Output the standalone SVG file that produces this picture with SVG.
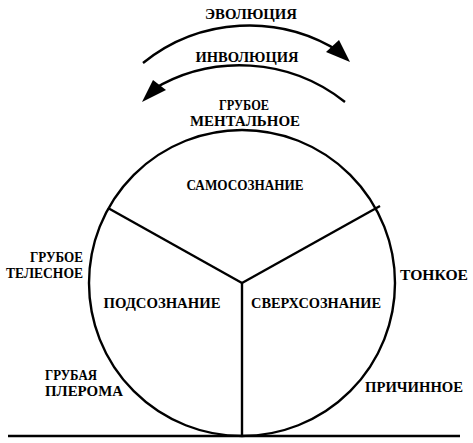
<svg xmlns="http://www.w3.org/2000/svg" width="473" height="443" viewBox="0 0 473 443">
<style>
text{font-family:"Liberation Serif","DejaVu Serif",serif;font-weight:bold;font-size:14.5px;fill:#000}
.c{text-anchor:middle}
.r{text-anchor:end}
.ln{fill:none;stroke:#000;stroke-width:2.4}
</style>
<g id="connectors">
<path id="evolution-arrow" class="ln" d="M143,63 A169,169 0 0 1 340,52"/>
<path d="M350,62 L326,52 L339,40 Z" fill="#000"/>
<path id="involution-arrow" class="ln" d="M345,102 A169,169 0 0 0 152,90"/>
<path d="M142,102 L153,80 L166,90 Z" fill="#000"/>
<line class="ln" x1="8" y1="436" x2="460" y2="436"/>
</g>
<g id="circle">
<circle class="ln" cx="242" cy="283" r="153" stroke-width="2.6"/>
<line class="ln" x1="242" y1="283" x2="108" y2="208"/>
<line class="ln" x1="242" y1="283" x2="380" y2="206"/>
<line class="ln" x1="242" y1="283" x2="242" y2="436"/>
</g>
<g id="labels">
<text class="c" x="251" y="19" textLength="92" lengthAdjust="spacingAndGlyphs">ЭВОЛЮЦИЯ</text>
<text class="c" x="247" y="62" textLength="103" lengthAdjust="spacingAndGlyphs">ИНВОЛЮЦИЯ</text>
<text class="c" x="244" y="110" textLength="50" lengthAdjust="spacingAndGlyphs">ГРУБОЕ</text>
<text class="c" x="245" y="126" textLength="110" lengthAdjust="spacingAndGlyphs">МЕНТАЛЬНОЕ</text>
<text class="c" x="245" y="190" textLength="117" lengthAdjust="spacingAndGlyphs">САМОСОЗНАНИЕ</text>
<text class="c" x="162" y="308" textLength="117" lengthAdjust="spacingAndGlyphs">ПОДСОЗНАНИЕ</text>
<text class="c" x="316" y="308" textLength="130" lengthAdjust="spacingAndGlyphs">СВЕРХСОЗНАНИЕ</text>
<text class="r" x="83" y="262" textLength="53" lengthAdjust="spacingAndGlyphs">ГРУБОЕ</text>
<text class="r" x="83" y="278" textLength="77" lengthAdjust="spacingAndGlyphs">ТЕЛЕСНОЕ</text>
<text x="400" y="280" textLength="68" lengthAdjust="spacingAndGlyphs">ТОНКОЕ</text>
<text x="45" y="380" textLength="52" lengthAdjust="spacingAndGlyphs">ГРУБАЯ</text>
<text x="45" y="396" textLength="78" lengthAdjust="spacingAndGlyphs">ПЛЕРОМА</text>
<text x="365" y="392" textLength="98" lengthAdjust="spacingAndGlyphs">ПРИЧИННОЕ</text>
</g>
</svg>
